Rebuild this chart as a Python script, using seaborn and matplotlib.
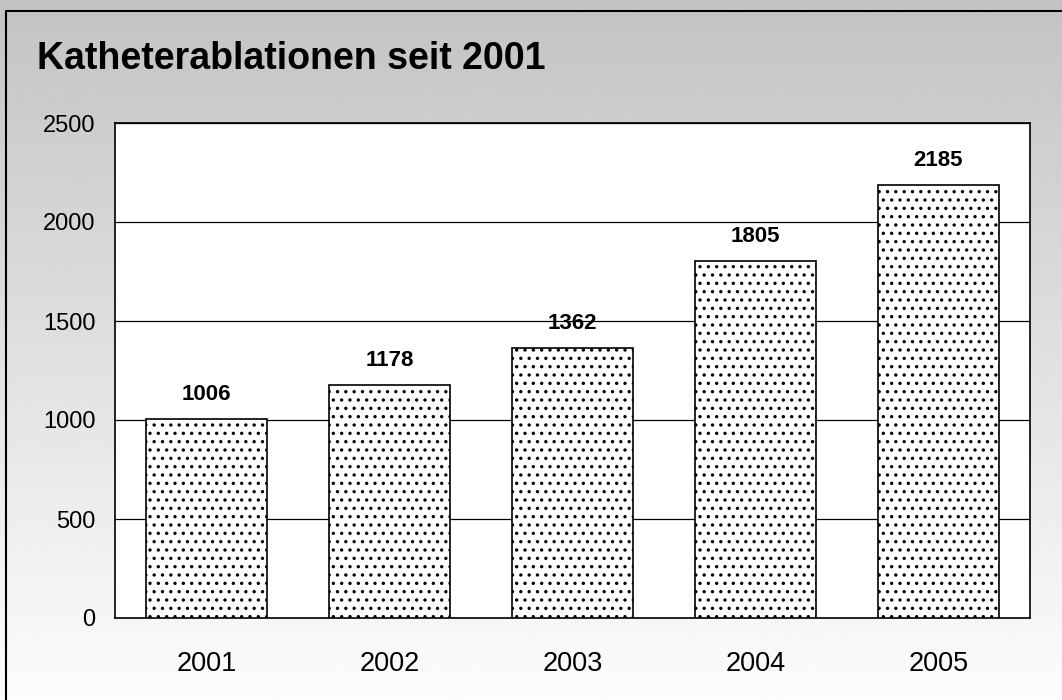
import numpy as np
import matplotlib
matplotlib.use("Agg")
import matplotlib.pyplot as plt
import seaborn as sns
from matplotlib.lines import Line2D

# Data
years = ["2001", "2002", "2003", "2004", "2005"]
counts = [1006, 1178, 1362, 1805, 2185]
y_ticks = [0, 500, 1000, 1500, 2000, 2500]

sns.set_style("white")
plt.rcParams['font.family'] = ['Liberation Sans', 'DejaVu Sans']
plt.rcParams['text.color'] = 'black'
plt.rcParams['xtick.color'] = 'black'
plt.rcParams['ytick.color'] = 'black'
plt.rcParams['hatch.linewidth'] = 1.2

fig = plt.figure(figsize=(10.62, 7.0), dpi=100)

# Gray to white gradient behind everything
bg = fig.add_axes([0, 0, 1, 1], zorder=-10)
grad = np.linspace(0.765, 0.99, 256).reshape(-1, 1)
bg.imshow(grad, aspect='auto', cmap='gray', vmin=0, vmax=1, extent=[0, 1, 0, 1])
bg.axis('off')

# Outer frame (left and top edges only visible)
fig.add_artist(Line2D([6/1062, 6/1062, 1.0], [0.0, 1 - 11/700, 1 - 11/700],
                      transform=fig.transFigure, color='black', lw=1.5))

ax = fig.add_axes([115/1062, 82/700, 915/1062, 495/700])
ax.set_facecolor('white')

sns.barplot(x=years, y=counts, color='white', edgecolor='black', linewidth=1.2,
            hatch='..', width=0.656, ax=ax, zorder=3)
for p in ax.patches:
    p.set_facecolor('white')

ax.bar_label(ax.containers[0], labels=[str(c) for c in counts], padding=10,
             fontsize=16, fontweight='bold', color='black')

ax.set_ylim(0, 2500)
ax.set_yticks(y_ticks)
ax.yaxis.grid(True, color='black', linewidth=0.9, zorder=0)
ax.set_axisbelow(True)
ax.tick_params(axis='y', length=0, labelsize=17, pad=14, labelcolor='black')
ax.tick_params(axis='x', length=0, labelsize=19.5, pad=24, labelcolor='black')
ax.set_xlabel('')
ax.set_ylabel('')
for s in ax.spines.values():
    s.set_visible(True)
    s.set_color('black')
    s.set_linewidth(1.2)

fig.text(37/1062, 1 - 59/700, 'Katheterablationen seit 2001', fontsize=27,
         fontweight='bold', va='center', ha='left', color='black')

fig.savefig('out.png', dpi=100)
